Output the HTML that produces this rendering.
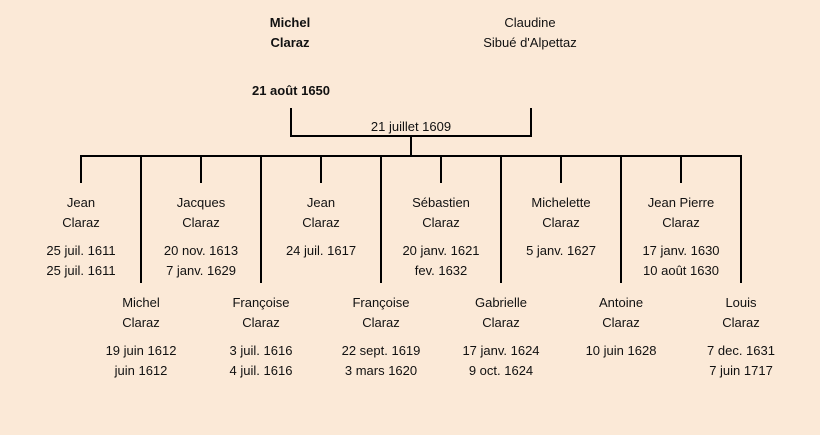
<!DOCTYPE html>
<html><head><meta charset="utf-8"><style>
body{margin:0;width:820px;height:435px;background:#fbe9d7;position:relative;font-family:"Liberation Sans",sans-serif;font-size:13px;color:#111;overflow:hidden}
.t{position:absolute;width:140px;text-align:center;line-height:20px;white-space:nowrap}
.b{font-weight:bold}
.l{position:absolute;background:#000}
</style></head><body>
<div class="t b" style="left:220px;top:13px">Michel<br>Claraz</div>
<div class="t" style="left:460px;top:13px">Claudine<br>Sibué d'Alpettaz</div>
<div class="t b" style="left:221px;top:81px">21 août 1650</div>
<div class="t" style="left:341px;top:117px">21 juillet 1609</div>
<div class="l" style="left:290px;top:108px;width:2px;height:29px"></div>
<div class="l" style="left:530px;top:108px;width:2px;height:29px"></div>
<div class="l" style="left:290px;top:135px;width:242px;height:2px"></div>
<div class="l" style="left:410px;top:135px;width:2px;height:21px"></div>
<div class="l" style="left:80px;top:155px;width:662px;height:2px"></div>
<div class="l" style="left:80px;top:155px;width:2px;height:28px"></div>
<div class="l" style="left:140px;top:155px;width:2px;height:128px"></div>
<div class="l" style="left:200px;top:155px;width:2px;height:28px"></div>
<div class="l" style="left:260px;top:155px;width:2px;height:128px"></div>
<div class="l" style="left:320px;top:155px;width:2px;height:28px"></div>
<div class="l" style="left:380px;top:155px;width:2px;height:128px"></div>
<div class="l" style="left:440px;top:155px;width:2px;height:28px"></div>
<div class="l" style="left:500px;top:155px;width:2px;height:128px"></div>
<div class="l" style="left:560px;top:155px;width:2px;height:28px"></div>
<div class="l" style="left:620px;top:155px;width:2px;height:128px"></div>
<div class="l" style="left:680px;top:155px;width:2px;height:28px"></div>
<div class="l" style="left:740px;top:155px;width:2px;height:128px"></div>

<div class="t" style="left:11px;top:193px">Jean<br>Claraz<div style="height:8px"></div>25 juil. 1611<br>25 juil. 1611</div>
<div class="t" style="left:131px;top:193px">Jacques<br>Claraz<div style="height:8px"></div>20 nov. 1613<br>7 janv. 1629</div>
<div class="t" style="left:251px;top:193px">Jean<br>Claraz<div style="height:8px"></div>24 juil. 1617</div>
<div class="t" style="left:371px;top:193px">Sébastien<br>Claraz<div style="height:8px"></div>20 janv. 1621<br>fev. 1632</div>
<div class="t" style="left:491px;top:193px">Michelette<br>Claraz<div style="height:8px"></div>5 janv. 1627</div>
<div class="t" style="left:611px;top:193px">Jean Pierre<br>Claraz<div style="height:8px"></div>17 janv. 1630<br>10 août 1630</div>

<div class="t" style="left:71px;top:293px">Michel<br>Claraz<div style="height:8px"></div>19 juin 1612<br>juin 1612</div>
<div class="t" style="left:191px;top:293px">Françoise<br>Claraz<div style="height:8px"></div>3 juil. 1616<br>4 juil. 1616</div>
<div class="t" style="left:311px;top:293px">Françoise<br>Claraz<div style="height:8px"></div>22 sept. 1619<br>3 mars 1620</div>
<div class="t" style="left:431px;top:293px">Gabrielle<br>Claraz<div style="height:8px"></div>17 janv. 1624<br>9 oct. 1624</div>
<div class="t" style="left:551px;top:293px">Antoine<br>Claraz<div style="height:8px"></div>10 juin 1628</div>
<div class="t" style="left:671px;top:293px">Louis<br>Claraz<div style="height:8px"></div>7 dec. 1631<br>7 juin 1717</div>
</body></html>
